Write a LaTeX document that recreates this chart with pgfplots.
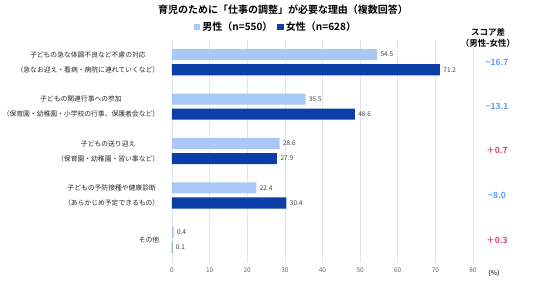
\documentclass[border=0pt]{standalone}
\usepackage{pgfplots}
\pgfplotsset{compat=1.18}
\usepackage{fontspec}
\setmainfont{Noto Sans CJK JP}[BoldFont={Noto Sans CJK JP Bold}]
\definecolor{lightb}{HTML}{A8C8F8}
\definecolor{darkb}{HTML}{0B3EA6}
\definecolor{neg}{HTML}{5A9AF2}
\definecolor{pos}{HTML}{D2457E}
\begin{document}
\begin{tikzpicture}
\path[use as bounding box] (0,0) rectangle (536pt,282pt);
\begin{axis}[
 at={(172pt,20pt)}, anchor=south west,
 scale only axis, width=301pt, height=222pt,
 xbar, xmin=0, xmax=80, ymin=-0.5, ymax=4.5, y dir=reverse,
 xtick={0,10,...,80}, ytick={0,1,2,3,4},
 yticklabels={{子どもの急な体調不良など不慮の対応\\（急なお迎え・看病・病院に連れていくなど）},
  {子どもの関連行事への参加\\（保育園・幼稚園・小学校の行事、保護者会など）},
  {子どもの送り迎え\\（保育園・幼稚園・習い事など）},
  {子どもの予防接種や健康診断\\（あらかじめ予定できるもの）},
  {その他}},
 bar width=0.25,
 xmajorgrids, major grid style={draw=black!10, line width=0.6pt},
 axis line style={draw=none}, tick style={draw=none},
 xticklabel style={font=\fontsize{6.5}{7}\selectfont, text=black!60, yshift=-2pt},
 yticklabel style={font=\fontsize{6.8}{15}\selectfont, align=center, text=black!85, xshift=-5pt},
 /pgf/number format/assume math mode=true,
 clip=false,
 nodes near coords={\pgfmathprintnumber[fixed,fixed zerofill,precision=1]{\pgfplotspointmeta}},
 point meta=x,
 nodes near coords style={font=\fontsize{6.5}{7}\selectfont, text=black!75, anchor=west, xshift=0pt},
 legend style={at={(0.3455,1.059)}, anchor=center, draw=none, fill=none, legend columns=2,
   font=\bfseries\fontsize{10}{11}\selectfont,
   /tikz/every even column/.append style={column sep=3pt}},
 sqleg/.style={legend image code/.code={\fill (0pt,-3.2pt) rectangle (6.5pt,3.2pt);}},
]
\addplot[fill=lightb, draw=none, bar shift=-0.17, sqleg] coordinates {(54.5,0) (35.5,1) (28.6,2) (22.4,3) (0.4,4)};
\addplot[fill=darkb, draw=none, bar shift=0.17, sqleg] coordinates {(71.2,0) (48.6,1) (27.9,2) (30.4,3) (0.1,4)};
\legend{男性（n=550）,女性（n=628）}
\end{axis}
\begin{scope}[every node/.style={font=\bfseries\fontsize{8.5}{9}\selectfont}]
\node[text=neg] at (497pt,220pt) {−16.7};
\node[text=neg] at (497pt,176pt) {−13.1};
\node[text=pos] at (497pt,132pt) {＋0.7};
\node[text=neg] at (497pt,87pt) {−8.0};
\node[text=pos] at (497pt,42pt) {＋0.3};
\node at (488pt,250pt) {スコア差};
\node at (488pt,239pt) {（男性-女性）};
\end{scope}
\node[font=\bfseries\fontsize{10}{12}\selectfont] at (283pt,272pt) {育児のために「仕事の調整」が必要な理由（複数回答）};
\node[font=\bfseries\fontsize{6.5}{8}\selectfont, text=black!80] at (494pt,9pt) {(\%)};
\end{tikzpicture}
\end{document}
